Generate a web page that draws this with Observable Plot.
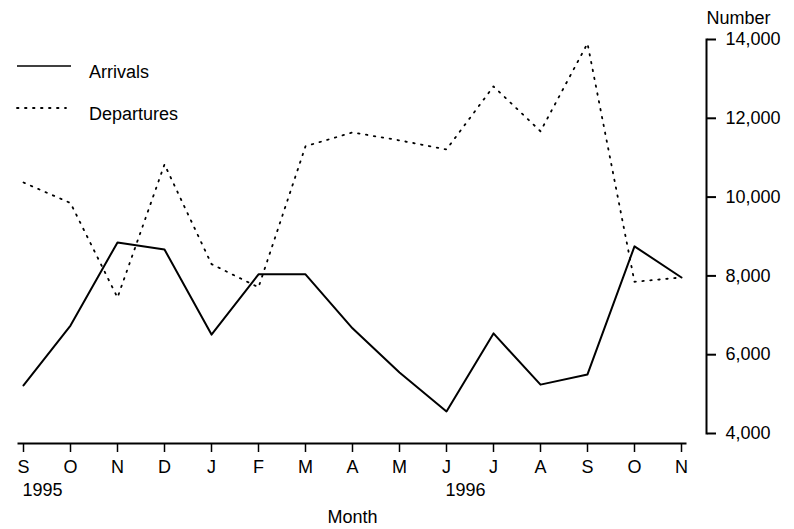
<!DOCTYPE html>
<html>
<head>
<meta charset="utf-8">
<script src="https://cdn.jsdelivr.net/npm/d3@7"></script>
<script src="https://cdn.jsdelivr.net/npm/@observablehq/plot@0.6"></script>
<style>
  html, body { margin: 0; padding: 0; background: #fff; }
  #wrap { position: relative; width: 794px; height: 529px; font-family: "Liberation Sans", Arial, sans-serif; }
  #legend { position: absolute; left: 0; top: 0; }
  #legend text { font-family: "Liberation Sans", Arial, sans-serif; font-size: 18px; fill: #000; }
</style>
</head>
<body>
<div id="wrap"></div>
<script>
const months = ["S","O","N","D","J","F","M","A","M","J","J","A","S","O","N"];
const arrivals = [5220, 6740, 8850, 8670, 6510, 8040, 8040, 6670, 5550, 4560, 6540, 5240, 5500, 8750, 7960];
const departures = [10370, 9850, 7450, 10830, 8300, 7710, 11290, 11640, 11440, 11210, 12810, 11670, 13900, 7850, 7960];
const yearLabels = [{i: 0, label: "1995"}, {i: 9, label: "1996"}];
const yTicks = [4000, 6000, 8000, 10000, 12000, 14000];
const seriesNames = ["Arrivals", "Departures"];

const idx = d3.range(months.length);
const arrData = idx.map(i => ({i, v: arrivals[i]}));
const depData = idx.map(i => ({i, v: departures[i]}));

const chart = Plot.plot({
  width: 794,
  height: 529,
  marginTop: 39,
  marginBottom: 86,
  marginLeft: 18,
  marginRight: 88,
  style: {fontFamily: "Liberation Sans, Arial, sans-serif", fontSize: "18px", color: "#000", background: "#fff"},
  x: {type: "point", domain: idx, padding: 0, insetRight: 21},
  y: {domain: [4000, 14000], insetBottom: 10},
  marks: [
    Plot.frame({anchor: "bottom", insetRight: 21, stroke: "#000", strokeWidth: 2}),
    Plot.frame({anchor: "right", insetBottom: 10, stroke: "#000", strokeWidth: 2}),
    Plot.axisX({ticks: idx, tickFormat: i => months[i], tickSize: 9, tickPadding: 8, strokeWidth: 1.5, label: null}),
    Plot.axisY({anchor: "right", ticks: yTicks, tickFormat: d3.format(","), tickSize: 9, tickPadding: 10, strokeWidth: 2, label: null}),
    Plot.text(["Number"], {frameAnchor: "top-right", textAnchor: "start", lineAnchor: "middle", dx: 0, dy: -21, fontSize: 18}),
    Plot.text(["Month"], {frameAnchor: "bottom", textAnchor: "middle", lineAnchor: "middle", dx: -10, dy: 74, fontSize: 18}),
    Plot.text(yearLabels, {x: "i", text: "label", frameAnchor: "bottom", textAnchor: "start", lineAnchor: "middle", dx: -1, dy: 47, fontSize: 18}),
    Plot.line(depData, {x: "i", y: "v", stroke: "#000", strokeWidth: 1.8, strokeDasharray: "1.5,6.5", strokeLinecap: "round"}),
    Plot.line(arrData, {x: "i", y: "v", stroke: "#000", strokeWidth: 2})
  ]
});

const wrap = document.getElementById("wrap");
wrap.appendChild(chart);

// Legend overlay
const ns = "http://www.w3.org/2000/svg";
const lg = document.createElementNS(ns, "svg");
lg.setAttribute("id", "legend");
lg.setAttribute("width", 220);
lg.setAttribute("height", 130);
const rows = [
  {name: seriesNames[0], y: 66, x2: 71, dash: null, w: 1.5},
  {name: seriesNames[1], y: 108, x2: 66, dash: "1.5,6.5", w: 1.8}
];
rows.forEach(r => {
  const ln = document.createElementNS(ns, "line");
  ln.setAttribute("x1", 17); ln.setAttribute("x2", r.x2);
  ln.setAttribute("y1", r.y); ln.setAttribute("y2", r.y);
  ln.setAttribute("stroke", "#000"); ln.setAttribute("stroke-width", r.w);
  if (r.dash) { ln.setAttribute("stroke-dasharray", r.dash); ln.setAttribute("stroke-linecap", "round"); }
  lg.appendChild(ln);
  const t = document.createElementNS(ns, "text");
  t.setAttribute("x", 89); t.setAttribute("y", r.y + 6);
  t.setAttribute("dy", "0.32em");
  t.textContent = r.name;
  lg.appendChild(t);
});
wrap.appendChild(lg);
</script>
</body>
</html>
